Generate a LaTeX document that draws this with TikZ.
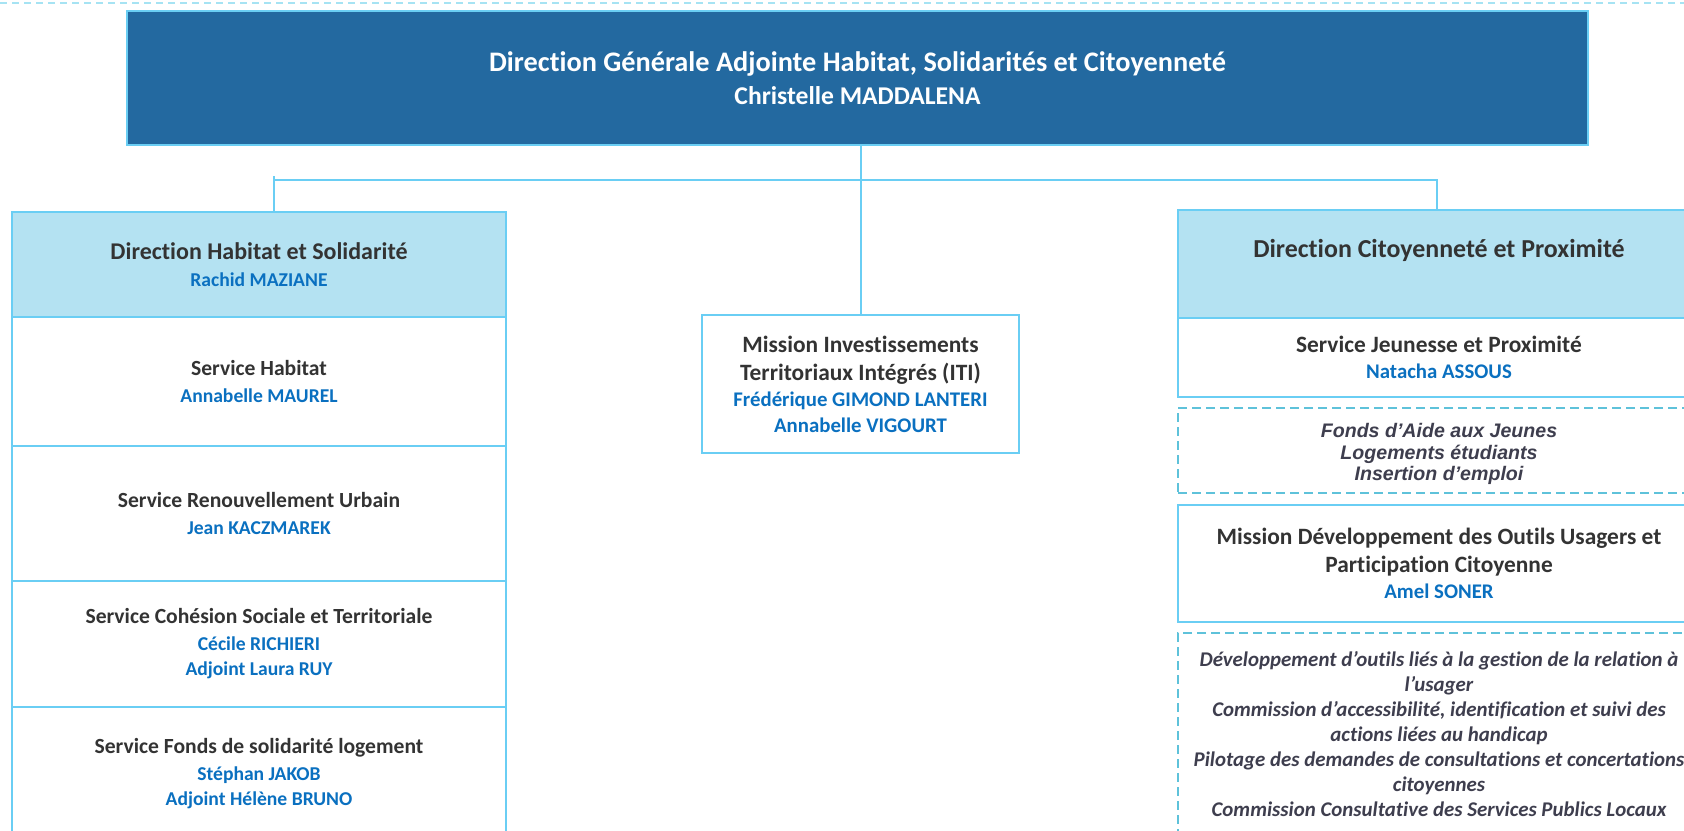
\documentclass[tikz,border=0pt]{standalone}
\usepackage{fontspec}
\setmainfont{Carlito}[Ligatures=NoCommon]
\newfontfamily\arialfont{Liberation Sans}
\definecolor{dgblue}{HTML}{2369A0}
\definecolor{lineblue}{HTML}{6ACEF4}
\definecolor{headfill}{HTML}{B4E2F2}
\definecolor{namecol}{HTML}{0A70C0}
\definecolor{textgray}{HTML}{333333}
\definecolor{dashcol}{HTML}{5EC2DA}
\definecolor{topdashcol}{HTML}{A6E3F3}
\definecolor{italgray}{HTML}{3E3E4E}
\newcommand{\who}[1]{\par\vspace{2pt}{\color{namecol}\fontsize{19.6}{25}\selectfont #1\par}}
\newcommand{\bigwho}[1]{\par\vspace{1pt}{\color{namecol}\fontsize{20.8}{25.5}\selectfont #1\par}}
\tikzset{
	box/.style={draw=lineblue, line width=2pt, fill=white, align=flush center, inner sep=0pt,
		text=textgray, font=\bfseries\fontsize{21.6}{27}\selectfont},
	leftbox/.style={box, minimum width=494pt, text width=480pt},
	rightbox/.style={box, minimum width=522pt, text width=512pt, font=\bfseries\fontsize{23.4}{28}\selectfont},
	head/.style={fill=headfill, font=\bfseries\fontsize{24}{28}\selectfont},
	notes/.style={rightbox, draw=dashcol, dash pattern=on 9pt off 5pt, text=italgray},
	link/.style={draw=lineblue, line width=2pt}
}
\begin{document}
\begin{tikzpicture}[x=1pt,y=-1pt]
	\useasboundingbox (0,0) rectangle (1684,830);
	\clip (0,0) rectangle (1684,830);
	\draw [topdashcol, line width=2pt, dash pattern=on 7pt off 5pt] (0,3) -- (1684,3);
	\node [box, fill=dgblue, text=white, minimum width=1461pt, minimum height=134pt, text width=1440pt,
		font=\bfseries\fontsize{28.3}{33}\selectfont] (dg) at (857.5,78)
		{Direction Générale Adjointe Habitat, Solidarités et Citoyenneté\\{\fontsize{25.6}{33}\selectfont Christelle MADDALENA}};
	\node [leftbox, head, minimum height=105pt] (dhs) at (259,264.5)
		{Direction Habitat et Solidarité\who{Rachid MAZIANE}};
	\node [leftbox, minimum height=129pt] (sh) at (259,381.5)
		{Service Habitat\who{Annabelle MAUREL}};
	\node [leftbox, minimum height=135pt] (sru) at (259,513.5)
		{Service Renouvellement Urbain\who{Jean KACZMAREK}};
	\node [leftbox, minimum height=126pt] (scs) at (259,644)
		{Service Cohésion Sociale et Territoriale\who{Cécile RICHIERI\\Adjoint Laura RUY}};
	\node [leftbox, minimum height=133pt] (sfsl) at (259,773.5)
		{Service Fonds de solidarité logement\who{Stéphan JAKOB\\Adjoint Hélène BRUNO}};
	\node [box, minimum width=317pt, minimum height=138pt, text width=305pt,
		font=\bfseries\fontsize{23.4}{28}\selectfont] (mit) at (860.5,384)
		{Mission Investissements\\Territoriaux Intégrés (ITI)\bigwho{Frédérique GIMOND LANTERI\\Annabelle VIGOURT}};
	\node [rightbox, head, minimum height=108pt, font=\bfseries\fontsize{25.9}{28}\selectfont] (dcp) at (1439,264)
		{Direction Citoyenneté et Proximité\par\vspace{28pt}};
	\node [rightbox, minimum height=79pt] (sjp) at (1439,357.5)
		{Service Jeunesse et Proximité\bigwho{Natacha ASSOUS}};
	\node [notes, minimum height=85pt, font=\arialfont\bfseries\itshape\fontsize{19.6}{21.5}\selectfont] (faj) at (1439,450.5)
		{Fonds d’Aide aux Jeunes\\Logements étudiants\\Insertion d’emploi\par\vspace{-7pt}};
	\node [rightbox, minimum height=117pt] (mdou) at (1439,563.5)
		{Mission Développement des Outils Usagers et\\Participation Citoyenne\bigwho{Amel SONER}};
	\node [notes, minimum height=202pt, font=\bfseries\itshape\fontsize{20.9}{25}\selectfont] (douc) at (1439,734)
		{Développement d’outils liés à la gestion de la relation à\\l’usager\\Commission d’accessibilité, identification et suivi des\\actions liées au handicap\\Pilotage des demandes de consultations et concertations\\citoyennes\\Commission Consultative des Services Publics Locaux};
	\coordinate (bl) at (274,176);
	\coordinate (br) at (1437,180);
	\draw [link] (mit.north |- dg.south) -- (mit.north);
	\draw [link] (bl |- dhs.north) -- (bl);
	\draw [link] (bl |- br) -- (br) -- (br |- dcp.north);
\end{tikzpicture}
\end{document}
